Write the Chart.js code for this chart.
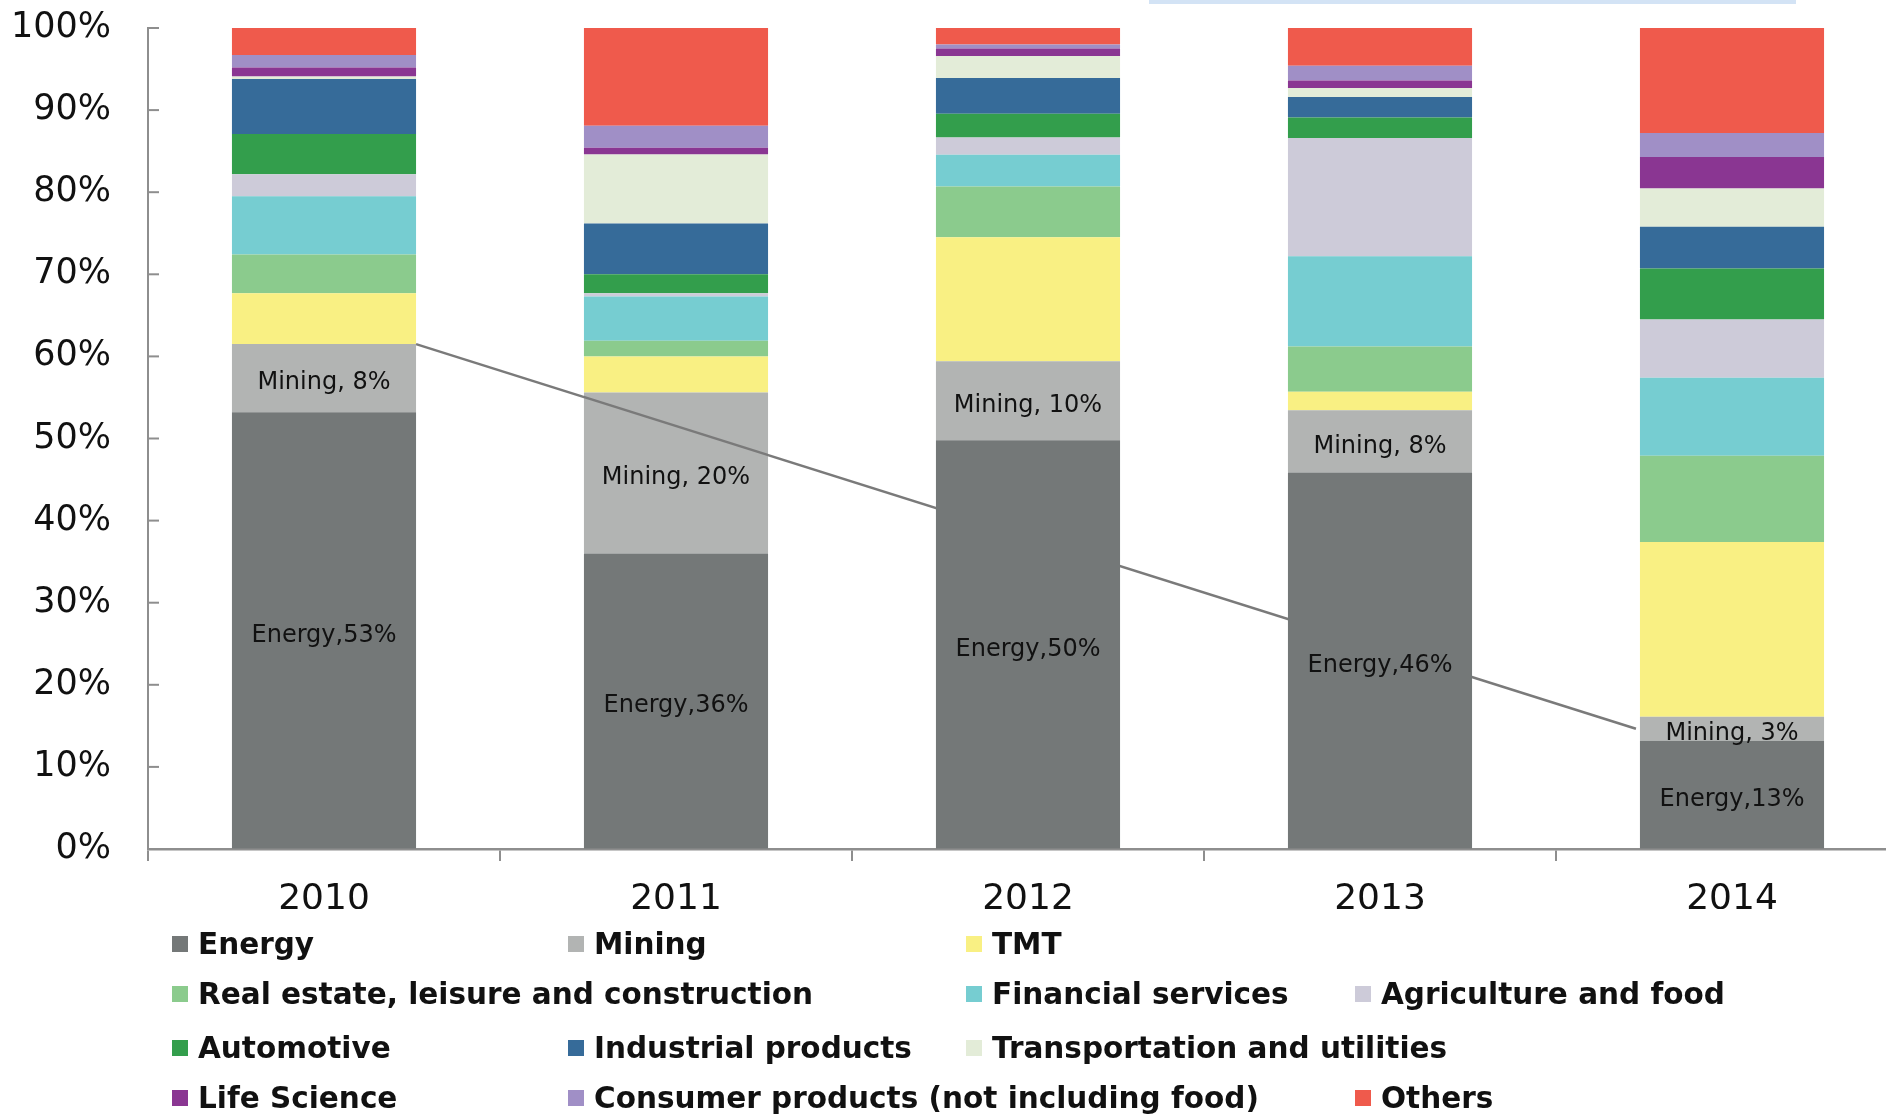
<!DOCTYPE html>
<html>
<head>
<meta charset="utf-8">
<title>Deals by sector, 2010-2014</title>
<script src="https://cdn.jsdelivr.net/npm/chart.js@4/dist/chart.umd.min.js"></script>
<style>
    html, body { margin: 0; padding: 0; background: #ffffff; overflow: hidden; }
    #wrap { position: absolute; left: 0; top: 0; width: 1920px; height: 1117px; }
    #topbar { position: absolute; left: 1149px; top: 0; width: 647px; height: 4px; background: #d3e3f5; }
    .legend-item { position: absolute; display: flex; align-items: center; height: 36px;
        font-family: "DejaVu Sans", sans-serif; font-weight: bold; font-size: 29.5px; color: #111111; white-space: nowrap; }
    .legend-swatch { width: 16px; height: 16px; margin-right: 10px; }
</style>
</head>
<body>
<div id="wrap">
    <canvas id="sector-chart" width="1920" height="1117"></canvas>
</div>
<div id="topbar"></div>
<script>
"use strict";

// Data (share of deals, %)
var years = ["2010", "2011", "2012", "2013", "2014"];
var energy = [53.2, 36.0, 49.8, 45.85, 13.2];
var mining = [8.3, 19.6, 9.6, 7.6, 2.9];
var tmt = [6.2, 4.4, 15.1, 2.25, 21.3];
var realEstate = [4.7, 1.9, 6.2, 5.5, 10.5];
var financial = [7.1, 5.4, 3.85, 11.0, 9.5];
var agriculture = [2.7, 0.4, 2.1, 14.4, 7.1];
var automotive = [4.9, 2.3, 2.9, 2.5, 6.2];
var industrial = [6.7, 6.2, 4.35, 2.5, 5.1];
var transport = [0.3, 8.4, 2.7, 1.1, 4.65];
var lifeScience = [1.1, 0.8, 0.9, 0.9, 3.85];
var consumer = [1.5, 2.7, 0.5, 1.8, 2.9];
var others = [3.3, 11.9, 2.0, 4.6, 12.8];
var yTicks = [0, 10, 20, 30, 40, 50, 60, 70, 80, 90, 100];

// Legend grid (columns / rows in px) and slot of each series
var legendCols = [172, 568, 966, 1355];
var legendRows = [944, 994, 1048, 1098];
var legendSlots = [[0, 0], [0, 1], [0, 2], [1, 0], [1, 2], [1, 3], [2, 0], [2, 1], [2, 2], [3, 0], [3, 1], [3, 3]];

var axisColor = "#8e8e8e";

function series(label, data, color) {
    return {
        label: label,
        data: data,
        backgroundColor: color,
        borderWidth: 0,
        barPercentage: 0.523,
        categoryPercentage: 1.0
    };
}

// Connector line from 2010 mining top to 2014 mining label
function connectorPoints(chart) {
    var bars = chart.getDatasetMeta(1).data;
    var first = bars[0];
    var last = bars[bars.length - 1];
    return {
        x1: first.x + first.width / 2, y1: first.y,
        x2: last.x - last.width / 2 - 4, y2: (last.y + last.base) / 2
    };
}

function strokeConnector(chart) {
    var p = connectorPoints(chart);
    var ctx = chart.ctx;
    ctx.save();
    ctx.strokeStyle = "#7a7a7a";
    ctx.lineWidth = 2.5;
    ctx.beginPath();
    ctx.moveTo(p.x1, p.y1);
    ctx.lineTo(p.x2, p.y2);
    ctx.stroke();
    ctx.restore();
}

var connectorPlugin = {
    id: "connector",
    beforeDatasetsDraw: function (chart) {
        strokeConnector(chart);
    },
    afterDatasetsDraw: function (chart) {
        // the line shows on top of the 2011 bar only
        var bar = chart.getDatasetMeta(1).data[1];
        var ctx = chart.ctx;
        ctx.save();
        ctx.beginPath();
        ctx.rect(bar.x - bar.width / 2, chart.chartArea.top, bar.width, chart.chartArea.height);
        ctx.clip();
        strokeConnector(chart);
        ctx.restore();
    }
};

// Labels inside Energy and Mining segments
var segmentLabelPlugin = {
    id: "segmentLabels",
    afterDatasetsDraw: function (chart) {
        var ctx = chart.ctx;
        ctx.save();
        ctx.font = "24px 'DejaVu Sans', sans-serif";
        ctx.fillStyle = "#111111";
        ctx.textAlign = "center";
        ctx.textBaseline = "middle";
        [0, 1].forEach(function (di) {
            var ds = chart.data.datasets[di];
            chart.getDatasetMeta(di).data.forEach(function (bar, i) {
                var v = Math.round(ds.data[i]);
                var text = di === 0 ? "Energy," + v + "%" : "Mining, " + v + "%";
                ctx.fillText(text, bar.x, (bar.y + bar.base) / 2 + 5);
            });
        });
        ctx.restore();
    }
};

// Small y tick marks drawn inside the plot
var innerTicksPlugin = {
    id: "innerTicks",
    afterDraw: function (chart) {
        var ctx = chart.ctx;
        var y = chart.scales.y;
        var left = chart.chartArea.left;
        ctx.save();
        ctx.strokeStyle = axisColor;
        ctx.lineWidth = 2;
        yTicks.forEach(function (t) {
            var py = y.getPixelForValue(t);
            ctx.beginPath();
            ctx.moveTo(left, py);
            ctx.lineTo(left + 11, py);
            ctx.stroke();
        });
        ctx.restore();
    }
};

var sectorChart = new Chart(document.getElementById("sector-chart"), {
    type: "bar",
    data: {
        labels: years,
        datasets: [
            series("Energy", energy, "#747878"),
            series("Mining", mining, "#b2b4b3"),
            series("TMT", tmt, "#f9f083"),
            series("Real estate, leisure and construction", realEstate, "#8bcb8d"),
            series("Financial services", financial, "#76cdd1"),
            series("Agriculture and food", agriculture, "#cdcbd9"),
            series("Automotive", automotive, "#339e4c"),
            series("Industrial products", industrial, "#366b99"),
            series("Transportation and utilities", transport, "#e3ecd8"),
            series("Life Science", lifeScience, "#8a3692"),
            series("Consumer products (not including food)", consumer, "#a08fc6"),
            series("Others", others, "#ef5a4c")
        ]
    },
    options: {
        responsive: false,
        animation: false,
        layout: { padding: { top: 28, right: 12, bottom: 208, left: 0 } },
        plugins: {
            legend: { display: false },
            tooltip: { enabled: false }
        },
        scales: {
            x: {
                stacked: true,
                afterFit: function (scale) { scale.height = 60; },
                grid: { display: true, drawOnChartArea: false, drawTicks: true, tickLength: 12, color: axisColor, lineWidth: 2 },
                border: { display: true, color: axisColor, width: 2.5 },
                ticks: { color: "#111111", padding: 17, font: { family: "'DejaVu Sans', sans-serif", size: 36 } }
            },
            y: {
                stacked: true,
                min: 0,
                max: 100,
                afterFit: function (scale) {
                    scale.width = 148;
                    scale.paddingTop = 0;
                    scale.paddingBottom = 0;
                },
                grid: { display: true, drawOnChartArea: false, drawTicks: false },
                border: { display: true, color: axisColor, width: 2 },
                ticks: {
                    stepSize: 10,
                    padding: 37,
                    color: "#111111",
                    font: { family: "'DejaVu Sans', sans-serif", size: 35 },
                    callback: function (v) { return v + "%"; }
                }
            }
        }
    },
    plugins: [connectorPlugin, segmentLabelPlugin, innerTicksPlugin]
});

// HTML legend built from the chart datasets
sectorChart.data.datasets.forEach(function (ds, i) {
    var slot = legendSlots[i];
    var item = document.createElement("div");
    item.className = "legend-item";
    item.style.left = legendCols[slot[1]] + "px";
    item.style.top = (legendRows[slot[0]] - 18) + "px";
    var sw = document.createElement("span");
    sw.className = "legend-swatch";
    sw.style.background = ds.backgroundColor;
    var txt = document.createElement("span");
    txt.textContent = ds.label;
    item.appendChild(sw);
    item.appendChild(txt);
    document.body.appendChild(item);
});
</script>
</body>
</html>
